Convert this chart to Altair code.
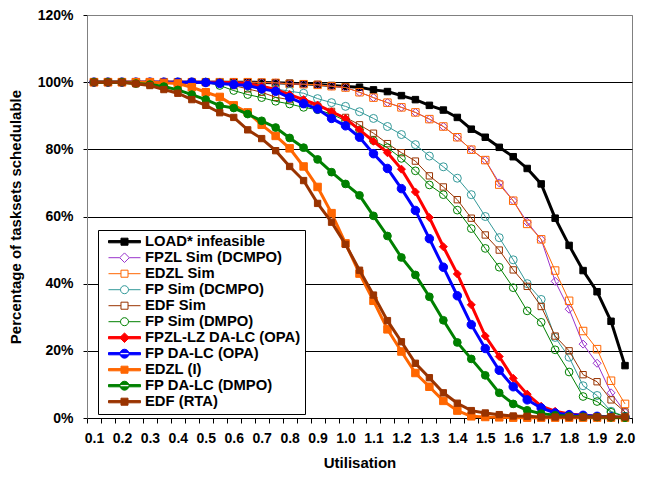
import altair as alt
import pandas as pd

# Utilisation categories 0.10 .. 2.00 in steps of 0.05
utilisation = [round(0.1 + 0.05 * i, 2) for i in range(39)]

series_names = [
    "LOAD* infeasible", "FPZL Sim (DCMPO)", "EDZL Sim", "FP Sim (DCMPO)", "EDF Sim",
    "FP Sim (DMPO)", "FPZL-LZ DA-LC (OPA)", "FP DA-LC (OPA)", "EDZL (I)",
    "FP DA-LC (DMPO)", "EDF (RTA)",
]

# percentage of tasksets schedulable
load_infeasible = [100, 100, 100, 100, 100, 100, 100, 100, 100, 100, 100, 100, 99.9, 99.8, 99.7, 99.5, 99.3, 99.0, 98.7, 98.5,
                   97.7, 97.2, 96.0, 94.8, 93.1, 91.7, 89.5, 86.0, 83.6, 80.6, 77.8, 74.3, 69.7, 59.5, 51.4, 43.9, 37.6, 28.8, 15.6]
fpzl_sim = [100, 100, 100, 100, 100, 100, 100, 100, 100, 100, 100, 100, 99.9, 99.8, 99.5, 99.4, 99.2, 98.8, 98.4, 97.0,
            95.4, 93.9, 92.5, 91.0, 89.0, 86.8, 83.6, 79.9, 76.8, 70.0, 64.7, 58.3, 53.2, 40.7, 32.4, 22.0, 16.3, 7.5, 1.7]
edzl_sim = [100, 100, 100, 100, 100, 100, 100, 100, 100, 100, 100, 100, 99.9, 99.8, 99.5, 99.4, 99.2, 98.8, 98.4, 97.0,
            95.4, 93.9, 92.5, 91.0, 89.0, 86.8, 83.6, 79.9, 76.8, 69.5, 64.7, 57.8, 53.2, 43.9, 34.9, 25.9, 20.5, 11.1, 4.2]
fp_sim_dcmpo = [100, 100, 100, 100, 100, 100, 100, 100, 100, 99.9, 99.6, 99.2, 98.7, 98.0, 97.3, 96.7, 95.1, 93.9, 92.8, 91.2,
                89.2, 86.8, 84.4, 81.4, 78.0, 74.8, 71.4, 66.5, 60.0, 53.7, 47.1, 40.0, 35.3, 24.0, 18.1, 9.6, 6.7, 2.0, 0.5]
edf_sim = [100, 100, 100, 100, 100, 100, 100, 100, 100, 99.8, 99.0, 98.0, 97.0, 95.5, 94.8, 94.0, 92.8, 91.3, 89.5, 87.3,
           84.8, 81.7, 79.0, 76.5, 72.1, 68.8, 65.0, 59.5, 54.5, 50.0, 44.1, 39.2, 33.2, 24.4, 20.0, 12.9, 10.8, 5.4, 1.8]
fp_sim_dmpo = [100, 100, 100, 100, 100, 100, 100, 100, 100, 99.0, 97.5, 96.3, 95.4, 94.3, 93.5, 92.5, 91.8, 90.5, 88.5, 85.8,
               82.6, 80.5, 77.3, 73.6, 69.4, 66.5, 61.9, 56.4, 50.5, 44.9, 38.8, 31.9, 28.5, 20.3, 13.7, 6.4, 4.9, 1.7, 0.5]
fpzl_lz_opa = [100, 100, 100, 100, 100, 100, 100, 100, 100, 100, 99.8, 99.5, 98.8, 97.8, 96.3, 94.8, 93.2, 91.2, 89.2, 85.8,
               82.4, 79.0, 74.1, 67.3, 59.7, 51.0, 42.9, 33.7, 24.4, 18.3, 11.8, 7.1, 3.5, 2.0, 1.2, 0.8, 0.5, 0.3, 0.2]
fp_dalc_opa = [100, 100, 100, 100, 100, 100, 100, 100, 99.9, 99.6, 99.3, 99.0, 98.0, 97.3, 95.4, 93.6, 92.0, 89.2, 87.0, 83.6,
               78.7, 74.3, 68.3, 61.8, 53.4, 44.9, 36.4, 27.8, 20.7, 14.2, 9.3, 5.4, 3.0, 1.5, 1.0, 0.8, 0.5, 0.3, 0.2]
edzl_i = [100, 100, 100, 100, 100, 99.8, 99.6, 98.5, 97.0, 95.6, 93.1, 91.0, 87.3, 84.0, 80.3, 74.9, 68.8, 61.0, 52.0, 43.0,
          34.9, 26.4, 19.8, 13.4, 9.3, 5.1, 2.2, 0.5, 0.3, 0.2, 0.1, 0.1, 0.1, 0.1, 0.1, 0.1, 0.1, 0.1, 0.1]
fp_dalc_dmpo = [100, 100, 100, 99.6, 99.3, 98.7, 97.7, 96.3, 94.8, 93.0, 92.3, 90.5, 88.5, 86.5, 83.4, 80.5, 77.0, 73.2, 69.7, 66.3,
                60.2, 54.2, 47.8, 42.6, 36.1, 29.1, 22.5, 17.6, 12.7, 7.5, 4.2, 2.3, 1.3, 0.8, 0.5, 0.4, 0.3, 0.2, 0.1]
edf_rta = [100, 100, 100, 99.5, 99.0, 97.8, 96.7, 94.8, 93.1, 90.9, 89.5, 85.8, 83.2, 79.6, 74.9, 70.7, 63.9, 58.3, 51.7, 44.0,
           36.6, 29.0, 22.7, 16.3, 12.0, 7.5, 4.4, 2.2, 1.5, 1.0, 0.6, 0.5, 0.3, 0.3, 0.3, 0.3, 0.3, 0.3, 0.3]

series_values = [load_infeasible, fpzl_sim, edzl_sim, fp_sim_dcmpo, edf_sim, fp_sim_dmpo,
                 fpzl_lz_opa, fp_dalc_opa, edzl_i, fp_dalc_dmpo, edf_rta]

y_ticks = [0, 0.2, 0.4, 0.6, 0.8, 1.0, 1.2]

# ---- styles ----
colors = ["#000000", "#9933CC", "#FF6600", "#339999", "#993300", "#008000",
          "#FF0000", "#0000FF", "#FF6600", "#008000", "#993300"]
filled = [True, False, False, False, False, False, True, True, True, True, True]
shapes = ["square", "diamond", "square", "circle", "square", "circle",
          "diamond", "circle", "square", "circle", "square"]
sizes = [42, 64, 56, 64, 40, 60, 64, 72, 56, 60, 40]
line_w = [3, 1, 1, 1, 1, 1, 3, 3, 3, 3, 3]

rows = []
for name, vals in zip(series_names, series_values):
    for u, v in zip(utilisation, vals):
        rows.append({"series": name, "u": u, "value": v / 100.0})
df = pd.DataFrame(rows)

W, H = 545, 403
n_cat = len(utilisation)
x_lo = round(utilisation[0] - 0.025, 4)
x_hi = round(utilisation[-1] + 0.025, 4)
boundaries = [round(x_lo + 0.05 * k, 4) for k in range(n_cat + 1)]

x_axis = alt.Axis(
    values=boundaries,
    labelExpr="(round((datum.value - 0.075) / 0.05) % 2 == 0 && datum.value < 2.0) ? format(datum.value + 0.025, '.1f') : ''",
    labelOffset=W / n_cat / 2,
    labelOverlap=False, labelFlush=False, labelBound=False,
    grid=False, tickSize=5, tickColor="black", domainColor="black",
    labelPadding=8, title="Utilisation", titlePadding=10,
)
y_axis = alt.Axis(
    values=y_ticks, format=".0%", grid=True,
    gridColor={"condition": {"test": "datum.value >= 1.19", "value": "#808080"}, "value": "#000000"},
    tickSize=4, tickColor="black", domainColor="#808080",
    labelPadding=10, title="Percentage of tasksets schedulable", titlePadding=14,
)

x_enc = alt.X("u:Q", scale=alt.Scale(domain=[x_lo, x_hi], nice=False, zero=False), axis=x_axis)
y_enc = alt.Y("value:Q", scale=alt.Scale(domain=[0, 1.2], nice=False), axis=y_axis)

layers = []
for i, name in enumerate(series_names):
    base = alt.Chart().transform_filter(alt.datum.series == name)
    line = base.mark_line(color=colors[i], strokeWidth=line_w[i], opacity=1).encode(x=x_enc, y=y_enc)
    if filled[i]:
        pt = base.mark_point(shape=shapes[i], size=sizes[i], filled=True, fill=colors[i],
                             stroke=colors[i], strokeWidth=1, opacity=1)
    else:
        pt = base.mark_point(shape=shapes[i], size=sizes[i], filled=False, fill="transparent",
                             stroke=colors[i], strokeWidth=1, opacity=1)
    layers += [line, pt.encode(x=x_enc, y=y_enc)]

# legend symbols: line + marker as custom paths (unit = 16px at size 1024)
def legend_path(shape, is_filled):
    if shape == "square":
        r = 0.22
        m = f"M{-r},{-r}H{r}V{r}H{-r}Z"
    elif shape == "diamond":
        r = 0.3
        m = f"M0,{-r}L{r},0L0,{r}L{-r},0Z"
    else:
        r = 0.28 if is_filled else 0.25
        m = f"M{-r},0A{r},{r} 0 1,0 {r},0A{r},{r} 0 1,0 {-r},0Z"
    if is_filled:
        ln = "M-1,-0.07H1V0.07H-1Z"
    else:
        ln = f"M-1,0H{-r}M{r},0H1"
    return ln + m

legend_shapes = [legend_path(s, f) for s, f in zip(shapes, filled)]
legend_fills = [c if f else "transparent" for c, f in zip(colors, filled)]

legend = alt.Legend(title=None, orient="none", legendX=11, legendY=215, padding=4,
                    clipHeight=15.4, rowPadding=-1.5, symbolOffset=6, labelOffset=4)
legend_layer = alt.Chart().transform_filter("false").mark_point(size=1024, filled=True, opacity=1, strokeWidth=1).encode(
    shape=alt.Shape("series:N", scale=alt.Scale(domain=series_names, range=legend_shapes), legend=legend),
    stroke=alt.Stroke("series:N", scale=alt.Scale(domain=series_names, range=colors), legend=legend),
    fill=alt.Fill("series:N", scale=alt.Scale(domain=series_names, range=legend_fills), legend=legend),
)
layers.append(legend_layer)

chart = alt.layer(*layers, data=df).properties(
    width=W, height=H,
    autosize=alt.AutoSizeParams(type="none"),
    padding={"left": 79, "top": 7, "right": 5, "bottom": 52},
).configure_view(
    fill="#C0C0C0", stroke="#808080", strokeWidth=1,
).configure_axis(
    labelFont="Liberation Sans", labelFontSize=14, labelFontWeight="bold", labelColor="black",
    titleFont="Liberation Sans", titleFontSize=15, titleFontWeight="bold", titleColor="black",
    domainWidth=1, tickWidth=1, gridWidth=1,
).configure_legend(
    labelFont="Liberation Sans", labelFontSize=14.8, labelFontWeight="bold", labelColor="black",
    strokeColor="black", fillColor="white", cornerRadius=0, symbolSize=1024, symbolStrokeWidth=1,
)

chart.save("out.html", embed_options={"renderer": "svg", "actions": False})
